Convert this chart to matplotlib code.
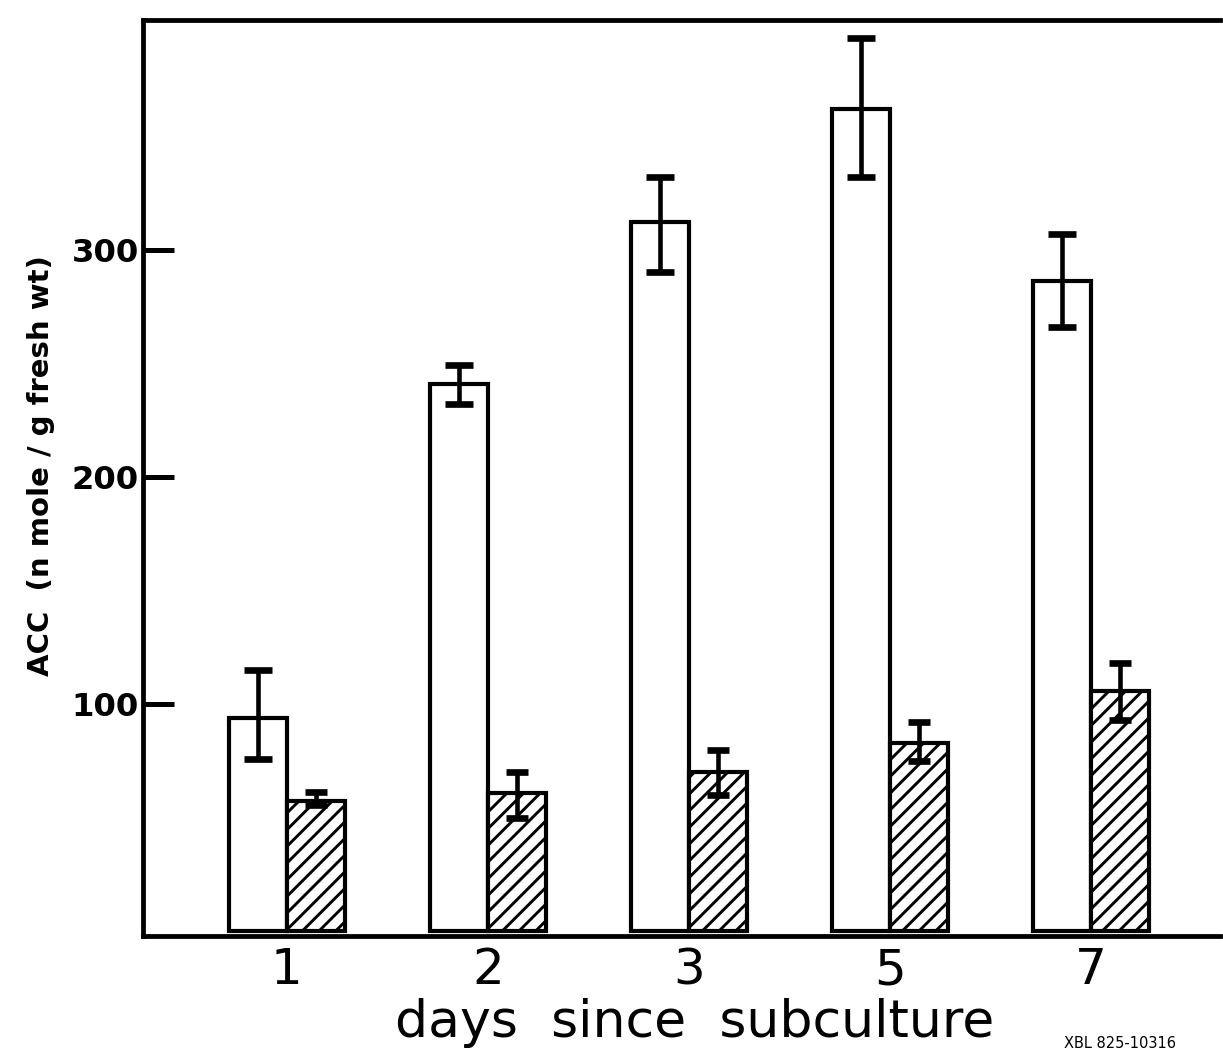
import numpy as np
import matplotlib
matplotlib.use("Agg")
import matplotlib.pyplot as plt

# Data
days = ["1", "2", "3", "5", "7"]
open_vals = [94, 241, 312, 362, 286]
open_err_low = [18, 9, 22, 30, 20]
open_err_high = [21, 8, 20, 31, 21]
hatch_vals = [57.5, 61, 70, 83, 106]
hatch_err_low = [2, 11, 10, 8, 13]
hatch_err_high = [4, 9, 10, 9, 12]
yticks = [100, 200, 300]

DPI = 150
fig = plt.figure(figsize=(1223 / DPI, 1052 / DPI), dpi=DPI)
ax = fig.add_axes([143 / 1223, 1 - 936 / 1052, (1220 - 143) / 1223, (936 - 20) / 1052])

plt.rcParams['hatch.linewidth'] = 1.4

x = np.arange(len(days))
w = 0.29
ax.bar(x - w / 2, open_vals, width=w, facecolor='white', edgecolor='black',
       linewidth=2.0, zorder=2)
ax.bar(x + w / 2, hatch_vals, width=w, facecolor='white', edgecolor='black',
       linewidth=2.0, hatch='///', zorder=2)

ax.errorbar(x - w / 2, open_vals, yerr=[open_err_low, open_err_high], fmt='none',
            ecolor='black', elinewidth=2.2, capsize=6.5, capthick=3.2, zorder=3)
ax.errorbar(x + w / 2, hatch_vals, yerr=[hatch_err_low, hatch_err_high], fmt='none',
            ecolor='black', elinewidth=2.2, capsize=5.5, capthick=3.2, zorder=3)

ax.set_xlim(-0.716, 4.642)
ax.set_ylim(-2, 401)

ax.spines['right'].set_visible(False)
for s in ['left', 'top', 'bottom']:
    ax.spines[s].set_linewidth(2.3)

ax.set_yticks(yticks)
ax.set_yticklabels([str(v) for v in yticks], fontsize=15.5, fontweight='bold')
ax.tick_params(axis='y', direction='in', length=15, width=2.4, pad=2)

ax.set_xticks(x)
ax.set_xticklabels(days, fontsize=24)
ax.tick_params(axis='x', length=0, pad=5)

ax.set_xlabel("days  since  subculture", fontsize=25, labelpad=0)
ax.xaxis.set_label_coords(0.5125, -0.068)
ax.set_ylabel("ACC  (n mole / g fresh wt)", fontsize=14, fontweight='bold')
ax.yaxis.set_label_coords(-0.0817, 0.514)

fig.text(0.87, 0.001, "XBL 825-10316", fontsize=7, va='bottom', ha='left')

fig.savefig("out.png", dpi=DPI)
